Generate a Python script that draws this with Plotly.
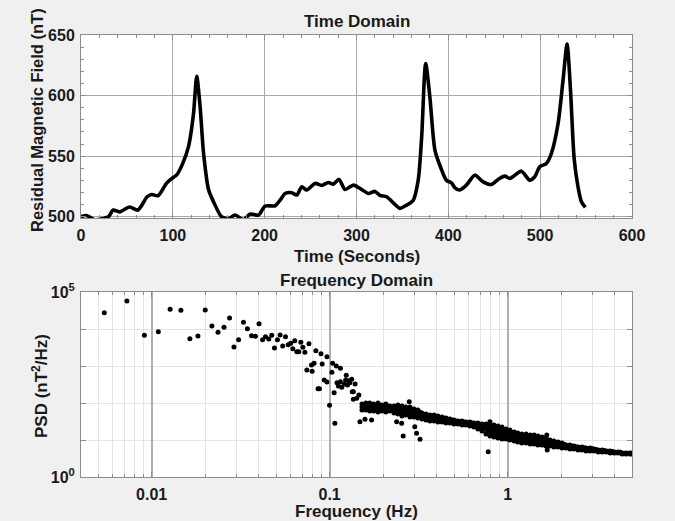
import plotly.graph_objects as go

# ---------------- data ----------------
time_s = [0, 6, 15, 24, 30, 35, 42, 53, 62, 72, 77, 84, 93, 99, 104, 110, 117, 122.5, 126, 129.7,
          133.5, 139, 144.5, 153, 160.6, 167.8, 176.9, 184.2, 193.3, 200.5, 211.4, 216.8, 222.3, 229.5,
          235, 240.4, 245.8, 254.9, 262.1, 269.4, 274.8, 281, 287.5, 296.6, 305.6, 312.9, 320.1, 325.5,
          332.8, 340, 347.3, 354.6, 361.8, 367.2, 370.9, 375.3, 379.9, 385.4, 392, 398, 403.4, 407, 412,
          419.7, 428.8, 437.9, 446.9, 454.2, 461.4, 466.9, 472, 479.6, 488.6, 494.1, 499.5, 506.8, 512.2,
          519.5, 524.9, 529.3, 533, 537, 541.2, 544.9, 549.2]
field_nT = [500, 501, 497.5, 498.5, 500, 505.5, 504, 508, 505.5, 516.5, 518.4, 517.3, 527.5, 531.6, 534.3,
            542.6, 557.7, 585, 616, 590.7, 552, 522, 512, 500, 498.4, 501.4, 497.5, 502.2, 501.4, 508.8,
            509, 513.7, 519.2, 519.8, 517.9, 524.7, 522, 527.5, 525.8, 528.3, 526.9, 530.8, 522.5, 526.1,
            522.5, 519.2, 520.9, 517.6, 516.5, 511.5, 506.9, 509.6, 513.7, 530.2, 565, 626.5, 598.9, 555,
            540, 530, 528, 524, 522, 526.1, 534.3, 528.8, 526.6, 530.8, 533.5, 531.6, 534, 537.6, 530.2,
            533, 541.2, 544, 552.2, 576.9, 612.6, 642.5, 605, 548, 524.7, 512.4, 507.7]

# individually readable PSD points (Hz, nT^2/Hz)
scatter_freq = [0.00542, 0.00726, 0.0091, 0.0109, 0.0127, 0.0146, 0.0164, 0.0182, 0.0200, 0.0218,
                0.0236, 0.0255, 0.0274, 0.0290, 0.0308, 0.0328, 0.0345, 0.0364, 0.0383, 0.0401,
                0.0420, 0.0436, 0.0455, 0.0473, 0.0490, 0.0509, 0.0527, 0.0545, 0.0565, 0.0585,
                0.0605, 0.0621, 0.0637, 0.0654, 0.0671, 0.0689, 0.0707, 0.0726, 0.0745, 0.0765,
                0.0791, 0.0797, 0.0818, 0.0837, 0.0861, 0.0877, 0.0894, 0.0908, 0.0932, 0.0966,
                0.0966, 0.0999, 0.103, 0.104, 0.106, 0.107, 0.109, 0.110, 0.112, 0.115,
                0.115, 0.117, 0.121, 0.123, 0.124, 0.126, 0.128, 0.130, 0.133, 0.134,
                0.136, 0.139, 0.136, 0.142, 0.146, 0.148, 0.158, 0.172, 0.238, 0.254,
                0.259, 0.301, 0.308, 0.322, 0.778, 0.280, 0.796, 1.66, 1.67]
scatter_psd = [28100, 58200, 6890, 8610, 34700, 32600, 5570, 6590, 33300, 12300,
               8300, 11300, 20200, 3330, 5240, 15500, 10400, 6710, 6470, 14200,
               5240, 6310, 5470, 6890, 3130, 5240, 7010, 3540, 6310, 3840,
               4190, 2990, 4920, 2480, 2480, 4460, 3270, 2390, 794, 4080,
               1080, 733, 1200, 2640, 248, 248, 2190, 1150, 427, 377,
               1820, 88.3, 689, 1200, 193, 28.8, 1020, 361, 294, 883,
               384, 271, 333, 427, 571, 313, 408, 361, 446, 206,
               128, 333, 206, 136, 167, 31.8, 37, 35.4, 31.8, 28.8,
               13.1, 23.3, 15.5, 10.6, 4.92, 110, 31.8, 13.9, 5.47]

# dense band of points, read as rows across the band (top / middle / bottom)
band_freq = [0.152, 0.160, 0.168, 0.177, 0.187, 0.197, 0.207, 0.218, 0.230, 0.242,
             0.255, 0.268, 0.283, 0.298, 0.313, 0.330, 0.348, 0.366, 0.386, 0.406,
             0.428, 0.450, 0.474, 0.499, 0.526, 0.554, 0.583, 0.614, 0.647, 0.681,
             0.718, 0.756, 0.796, 0.838, 0.883, 0.930, 0.979, 1.03, 1.09, 1.14,
             1.20, 1.27, 1.34, 1.41, 1.48, 1.56, 1.64, 1.73, 1.82, 1.92,
             2.02, 2.13, 2.24, 2.36, 2.49, 2.62, 2.76, 2.91, 3.06, 3.23,
             3.40, 3.58, 3.77, 3.97, 4.18, 4.40, 4.63, 4.88]
band_psd_top = [95.7, 102, 102, 95.7, 102, 90, 95.7, 84.5, 84.5, 90,
                84.5, 79.4, 79.4, 70.1, 65.9, 54.7, 51.4, 48.3, 48.3, 45.4,
                42.6, 40.1, 37.6, 35.4, 33.2, 33.2, 31.2, 31.2, 29.4, 29.4,
                27.6, 27.6, 25.9, 25.9, 24.3, 22.9, 20.2, 19.0, 16.8, 15.7,
                14.8, 14.8, 13.9, 13.9, 13.1, 12.3, 11.5, 10.2, 9.57, 9.0,
                8.45, 7.46, 7.46, 7.01, 6.59, 6.59, 6.19, 6.19, 5.82, 5.47,
                5.47, 5.14, 5.14, 4.83, 4.83, 4.54, 4.54, 4.54]
band_psd_mid = [79.4, 82, 79.4, 77, 77, 74.6, 74.6, 72.3, 68, 68,
                61.9, 61.9, 58.2, 54.7, 51.4, 45.4, 42.6, 40.1, 40.1, 37.6,
                36.5, 34.3, 33.2, 31.2, 30.3, 29.4, 28.5, 27.6, 25.9, 24.3,
                22.2, 20.2, 18.4, 17.8, 16.8, 15.7, 14.8, 13.9, 12.7, 11.9,
                11.2, 11.2, 10.5, 10.5, 9.9, 9.57, 9.0, 8.45, 7.94, 7.7,
                7.23, 6.8, 6.59, 6.4, 6.0, 6.0, 5.65, 5.65, 5.47, 5.14,
                5.14, 5.0, 4.83, 4.7, 4.7, 4.4, 4.4, 4.4]
band_psd_bot = [65.9, 65.9, 61.9, 61.9, 58.2, 61.9, 58.2, 61.9, 54.7, 51.4,
                45.4, 48.3, 42.6, 42.6, 40.1, 37.6, 35.4, 33.2, 33.2, 31.2,
                31.2, 29.4, 29.4, 27.6, 27.6, 25.9, 25.9, 24.3, 22.9, 20.2,
                17.8, 14.8, 13.1, 12.3, 11.5, 10.8, 10.8, 10.2, 9.57, 9.0,
                8.45, 8.45, 7.94, 7.94, 7.46, 7.46, 7.01, 7.01, 6.59, 6.59,
                6.19, 6.19, 5.82, 5.82, 5.47, 5.47, 5.14, 5.14, 5.14, 4.83,
                4.83, 4.83, 4.54, 4.54, 4.54, 4.26, 4.26, 4.26]
# second set of band columns, between the first ones (upper / lower rows)
band_freq_b = [0.156, 0.164, 0.172, 0.182, 0.192, 0.202, 0.212, 0.224, 0.236, 0.248,
               0.262, 0.275, 0.290, 0.306, 0.321, 0.339, 0.357, 0.376, 0.396, 0.417,
               0.439, 0.462, 0.486, 0.512, 0.540, 0.568, 0.598, 0.630, 0.664, 0.699,
               0.737, 0.776, 0.817, 0.860, 0.906, 0.954, 1.005, 1.06, 1.12, 1.17,
               1.23, 1.30, 1.37, 1.45, 1.52, 1.60, 1.68, 1.78, 1.87, 1.97,
               2.07, 2.19, 2.30, 2.42, 2.55, 2.69, 2.83, 2.99, 3.14, 3.31,
               3.49, 3.67, 3.87, 4.07, 4.29, 4.51, 4.75, 4.96]
band_psd_b_upper = [87.2, 92.5, 90, 86, 88.5, 82, 84.5, 78.2, 75.8, 78.2,
                    72.3, 70.1, 68, 61.9, 58.2, 49.8, 46.8, 44, 44, 41.3,
                    39.4, 37, 35.4, 33.2, 32.1, 31.2, 30, 29.4, 27.6, 26.8,
                    24.7, 23.6, 21.8, 21.5, 20.2, 19.0, 17.3, 16.2, 14.6, 13.7,
                    12.9, 12.9, 12.1, 12.1, 11.3, 10.8, 10.2, 9.3, 8.7, 8.3,
                    7.8, 7.1, 7.01, 6.7, 6.3, 6.3, 5.9, 5.9, 5.65, 5.3,
                    5.3, 5.06, 5.0, 4.76, 4.76, 4.47, 4.47, 4.47]
band_psd_b_lower = [72.3, 73.5, 70.1, 69, 67, 68, 65.9, 67, 61, 59.2,
                    53, 54.7, 49.8, 48.3, 45.4, 41.3, 38.8, 36.5, 36.5, 34.3,
                    33.8, 32.1, 31.2, 29.4, 29, 27.6, 27.2, 25.9, 24.3, 22.2,
                    19.9, 17.3, 15.5, 14.8, 13.9, 13.1, 12.7, 11.9, 11, 10.3,
                    9.7, 9.7, 9.1, 9.1, 8.6, 8.45, 7.94, 7.7, 7.23, 7.1,
                    6.7, 6.5, 6.19, 6.1, 5.7, 5.7, 5.4, 5.4, 5.3, 5.0,
                    5.0, 4.9, 4.7, 4.6, 4.6, 4.33, 4.33, 4.33]

time_ticks = [0, 100, 200, 300, 400, 500, 600]
field_ticks = [500, 550, 600, 650]
freq_ticks = [0.01, 0.1, 1]
freq_tick_text = ["0.01", "0.1", "1"]
freq_minor = [0.005, 0.006, 0.007, 0.008, 0.009, 0.02, 0.03, 0.04, 0.05, 0.06, 0.07, 0.08, 0.09,
              0.2, 0.3, 0.4, 0.5, 0.6, 0.7, 0.8, 0.9, 2, 3, 4, 5]
psd_ticks = [1, 100000]
psd_tick_text = ["10<sup>0</sup>", "10<sup>5</sup>"]
psd_minor = [10, 100, 1000, 10000]

# ---------------- layout helpers ----------------
W, H = 675, 521
def px_x(x):
    return x / W
def px_y(y):
    return 1 - y / H

FONT = "Liberation Sans, Arial, Helvetica, sans-serif"
TXT = "#1a1a1a"
tickfont = dict(family=FONT, size=16, color=TXT, weight="bold")
AX = "#8c8c8c"

fig = go.Figure()
fig.add_trace(go.Scatter(
    x=time_s, y=field_nT, mode="lines",
    line=dict(color="black", width=3.6, shape="spline", smoothing=0.7),
    xaxis="x", yaxis="y", showlegend=False, hoverinfo="skip"))
fig.add_trace(go.Scatter(
    x=scatter_freq + band_freq + band_freq + band_freq + band_freq_b + band_freq_b,
    y=scatter_psd + band_psd_top + band_psd_mid + band_psd_bot + band_psd_b_upper + band_psd_b_lower,
    mode="markers", marker=dict(color="black", size=5, line=dict(width=0)),
    xaxis="x2", yaxis="y2", showlegend=False, hoverinfo="skip"))

common = dict(zeroline=False, ticks="inside", ticklen=5, tickcolor=AX, showline=True,
              linecolor=AX, linewidth=1, mirror="allticks", tickfont=tickfont,
              ticklabelstandoff=2, automargin=False, tickmode="array")

x_dom = [px_x(81), px_x(632)]
fig.update_layout(
    width=W, height=H, autosize=False,
    margin=dict(l=0, r=0, t=0, b=0, pad=0, autoexpand=False),
    paper_bgcolor="#f0f0f0", plot_bgcolor="white",
    xaxis=dict(domain=x_dom, anchor="y", range=[0, 600], tickvals=time_ticks,
               showgrid=True, gridcolor="#a8a8a8", gridwidth=1,
               minor=dict(dtick=20, ticks="inside", ticklen=3, tickcolor=AX, showgrid=False),
               **common),
    yaxis=dict(domain=[px_y(218.3), px_y(35)], anchor="x", range=[498.7, 650],
               tickvals=field_ticks, showgrid=True, gridcolor="#a8a8a8", gridwidth=1,
               minor=dict(dtick=10, ticks="inside", ticklen=3, tickcolor=AX, showgrid=False),
               **common),
    xaxis2=dict(domain=x_dom, anchor="y2", type="log", range=[-2.397, 0.699],
                tickvals=freq_ticks, ticktext=freq_tick_text,
                showgrid=True, gridcolor="#b0b0b0", gridwidth=1.5,
                minor=dict(tickmode="array", tickvals=freq_minor, ticks="inside", ticklen=3,
                           tickcolor=AX, showgrid=True, gridcolor="#e4e4e4", gridwidth=1),
                **common),
    yaxis2=dict(domain=[px_y(477.3), px_y(292.3)], anchor="x2", type="log", range=[0, 5],
                tickvals=psd_ticks, ticktext=psd_tick_text,
                showgrid=True, gridcolor="#e4e4e4", gridwidth=1,
                minor=dict(tickmode="array", tickvals=psd_minor, ticks="inside", ticklen=5,
                           tickcolor=AX, showgrid=True, gridcolor="#e4e4e4", gridwidth=1),
                **common),
)

def label(text, x, y, size=17, angle=0):
    fig.add_annotation(text=text, x=px_x(x), y=px_y(y), xref="paper", yref="paper",
                       showarrow=False, textangle=angle, xanchor="center", yanchor="middle",
                       font=dict(family=FONT, size=size, color=TXT, weight="bold"))

label("Time Domain", 356.5, 22)
label("Time (Seconds)", 356.5, 256)
label("Residual Magnetic Field (nT)", 37, 120, size=16.5, angle=-90)
label("Frequency Domain", 356.5, 280)
label("Frequency (Hz)", 356.5, 511)
label("PSD (nT<sup>2</sup>/Hz)", 40, 386, angle=-90)

fig.write_html("out.html", config={"displayModeBar": False},
               post_script="document.body.style.margin='0';document.body.style.overflow='hidden';")
